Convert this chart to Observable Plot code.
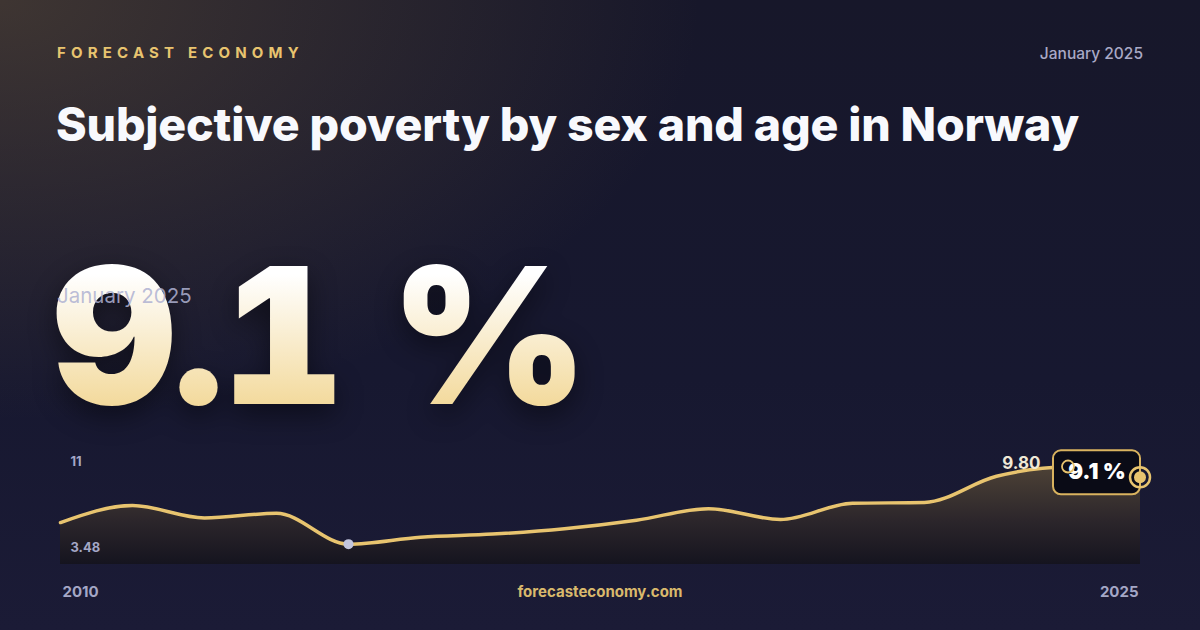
<!DOCTYPE html>
<html>
<head>
<meta charset="utf-8">
<script src="https://cdn.jsdelivr.net/npm/d3@7"></script>
<script src="https://cdn.jsdelivr.net/npm/@observablehq/plot@0.6"></script>
<style>
  html, body { margin: 0; padding: 0; }
  body {
    width: 1200px; height: 630px; overflow: hidden; position: relative;
    font-family: Inter, "Noto Sans", sans-serif;
    background:
      radial-gradient(ellipse 700px 420px at 0% 0%, rgba(110, 90, 60, 0.45), rgba(110, 90, 60, 0) 100%),
      linear-gradient(180deg, #17172a 0%, #171830 60%, #1b1b36 100%);
  }
  .brand { position: absolute; left: 57px; top: 43px; font-size: 15px; font-weight: 700;
    letter-spacing: 0.345em; color: #e8c46f; }
  .date { position: absolute; right: 57px; top: 44px; font-size: 15.5px; font-weight: 500; color: #a9a9c6; }
  .title { position: absolute; left: 56px; top: 96px; font-size: 46.5px; font-weight: 800;
    color: #f8f9fd; letter-spacing: -0.18px; white-space: nowrap; }
  .big { position: absolute; left: 53px; top: 240px; font-size: 190px; font-weight: 900; line-height: 1;
    letter-spacing: -2.5px; white-space: nowrap; font-feature-settings: "tnum" 1; font-variant-numeric: tabular-nums;
    background: linear-gradient(180deg, #ffffff 18%, #f2d795 92%);
    -webkit-background-clip: text; background-clip: text; color: transparent;
    filter: drop-shadow(0 10px 14px rgba(0,0,0,0.45)); }
  .sub { position: absolute; left: 57px; top: 283px; font-size: 20.5px; font-weight: 400; color: rgba(175, 178, 210, 0.85); }
  #chart { position: absolute; left: 0; top: 430px; }
  .site { position: absolute; left: 0; width: 1200px; top: 582px; text-align: center;
    font-size: 15px; font-weight: 700; color: #d9b96c; }
</style>
</head>
<body>
<div class="brand">FORECAST ECONOMY</div>
<div class="date">January 2025</div>
<div class="title">Subjective poverty by sex and age in Norway</div>
<div class="big">9.1 %</div>
<div class="sub">January 2025</div>
<div id="chart"></div>
<div class="site">forecasteconomy.com</div>
<script>
// Data (annual values)
const years  = [2010, 2011, 2012, 2013, 2014, 2015, 2016, 2017, 2018, 2019, 2020, 2021, 2022, 2023, 2024, 2025];
const values = [6.2, 7.3, 6.5, 6.8, 4.8, 5.25, 5.45, 5.8, 6.35, 7.1, 6.4, 7.45, 7.5, 9.2, 9.8, 9.1];
const yDomain = [3.48, 11];
const yTickLabels = ["11", "3.48"];
const xTickLabels = ["2010", "2025"];
const currentLabel = "9.1 %";

const data = years.map((year, i) => ({year, value: values[i]}));
const minD = data.reduce((a, b) => (b.value < a.value ? b : a));
const maxD = data.reduce((a, b) => (b.value > a.value ? b : a));
const last = data[data.length - 1];

const gold = "#e8c46f";

const plot = Plot.plot({
  width: 1200,
  height: 200,
  marginLeft: 60,
  marginRight: 60,
  marginTop: 18,
  marginBottom: 66,
  x: {domain: [years[0], years[years.length - 1]], axis: null},
  y: {domain: yDomain, axis: null},
  style: {background: "transparent", overflow: "visible", fontFamily: "Inter, sans-serif"},
  marks: [
    Plot.areaY(data, {x: "year", y1: yDomain[0], y2: "value", curve: "monotone-x", fill: "url(#areaGrad)"}),
    Plot.lineY(data, {x: "year", y: "value", curve: "monotone-x", stroke: gold, strokeWidth: 3.5}),
    Plot.dot([minD], {x: "year", y: "value", r: 5, fill: "#c3c6de"}),
    Plot.text([maxD], {x: "year", y: "value", text: d => d.value.toFixed(2), textAnchor: "end", dx: -28, dy: -3,
      fill: "#efe8d6", fontSize: 17, fontWeight: 700}),
    Plot.text([{v: yDomain[1], t: yTickLabels[0]}], {x: () => years[0], y: "v", text: "t", textAnchor: "start", dx: 10, dy: 13,
      fill: "#a4a7c6", fontSize: 13, fontWeight: 700}),
    Plot.text([{v: yDomain[0], t: yTickLabels[1]}], {x: () => years[0], y: "v", text: "t", textAnchor: "start", dx: 10, dy: -17,
      fill: "#a4a7c6", fontSize: 13, fontWeight: 700}),
    Plot.text([years[0]], {x: d => d, frameAnchor: "bottom", text: () => xTickLabels[0], textAnchor: "start", dx: 2, dy: 32,
      fill: "#a4a7c6", fontSize: 15, fontWeight: 700}),
    Plot.text([years[years.length - 1]], {x: d => d, frameAnchor: "bottom", text: () => xTickLabels[1], textAnchor: "end", dx: -2, dy: 32,
      fill: "#a4a7c6", fontSize: 15, fontWeight: 700})
  ]
});

const svg = d3.select(plot);
const defs = svg.insert("defs", ":first-child");
const grad = defs.append("linearGradient").attr("id", "areaGrad").attr("x1", 0).attr("y1", 0).attr("x2", 0).attr("y2", 1);
grad.append("stop").attr("offset", "0%").attr("stop-color", "#4d4236");
grad.append("stop").attr("offset", "55%").attr("stop-color", "#2c262b");
grad.append("stop").attr("offset", "100%").attr("stop-color", "#15141f");

// Callout box and markers placed with the plot's scales
const sx = plot.scale("x"), sy = plot.scale("y");
const ex = sx.apply(last.year), ey = sy.apply(last.value);
const mx = sx.apply(maxD.year), my = sy.apply(maxD.value);
const g = svg.append("g");
g.append("rect").attr("x", ex - 87).attr("y", ey - 27).attr("width", 87).attr("height", 44).attr("rx", 8)
  .attr("fill", "#0a0b16").attr("stroke", "#d9b35f").attr("stroke-width", 2);
g.append("text").attr("x", ex - 43).attr("y", ey + 2).attr("text-anchor", "middle")
  .attr("fill", "#ffffff").attr("font-size", 22).attr("font-weight", 900).attr("font-family", "Inter, sans-serif")
  .text(currentLabel);
g.append("circle").attr("cx", mx).attr("cy", my).attr("r", 6).attr("fill", "none").attr("stroke", gold).attr("stroke-width", 1.8);
g.append("circle").attr("cx", ex).attr("cy", ey).attr("r", 10).attr("fill", "none").attr("stroke", gold).attr("stroke-width", 2.5);
g.append("circle").attr("cx", ex).attr("cy", ey).attr("r", 6).attr("fill", gold);

document.getElementById("chart").appendChild(plot);
</script>
</body>
</html>
